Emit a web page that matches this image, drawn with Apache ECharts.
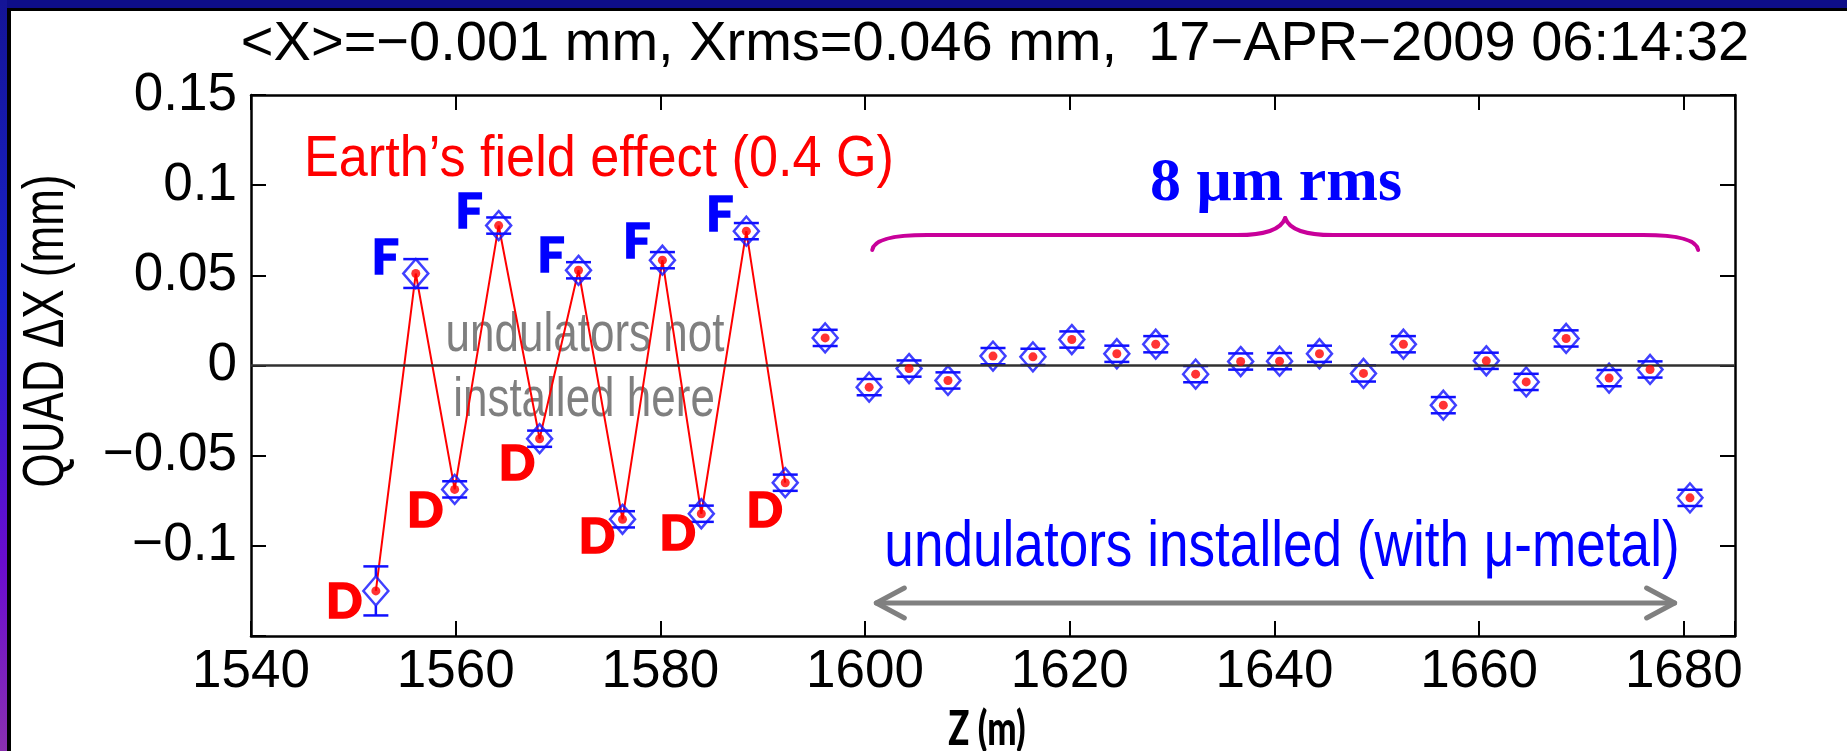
<!DOCTYPE html>
<html>
<head>
<meta charset="utf-8">
<script src="https://cdn.jsdelivr.net/npm/echarts@6/dist/echarts.min.js"></script>
<style>
  html, body { margin: 0; padding: 0; background: #ffffff; }
  #chart { width: 1847px; height: 751px; }
</style>
</head>
<body>
<div id="chart"></div>
<script>
// Quadrupole positions along the undulator line (m)
const zPositions = [
  1552.2, 1556.1, 1559.9, 1564.2, 1568.2, 1572.0, 1576.3, 1580.2, 1584.0, 1588.4, 1592.2,
  1596.1, 1600.4, 1604.3, 1608.1, 1612.5, 1616.4, 1620.2, 1624.6, 1628.4, 1632.3, 1636.7,
  1640.5, 1644.4, 1648.7, 1652.6, 1656.5, 1660.7, 1664.6, 1668.5, 1672.7, 1676.7, 1680.6
];
// Horizontal quad offset (mm)
const quadDx = [
  -0.125, 0.051, -0.0687, 0.0776, -0.0406, 0.0528, -0.0853, 0.0584, -0.0822, 0.0745, -0.065,
  0.0153, -0.012, -0.0017, -0.0083, 0.0052, 0.0048, 0.0144, 0.0065, 0.0118, -0.0048, 0.0022,
  0.0024, 0.0065, -0.0044, 0.0118, -0.022, 0.0026, -0.0091, 0.015, -0.007, -0.0022, -0.0734
];
// Measurement uncertainty (mm)
const quadErr = [
  0.0136, 0.008, 0.0045, 0.0045, 0.0045, 0.0045, 0.0045, 0.0045, 0.0045, 0.0045, 0.0045,
  0.0045, 0.0045, 0.0045, 0.0045, 0.0045, 0.0045, 0.0045, 0.0045, 0.0045, 0.0045, 0.0045,
  0.0045, 0.0045, 0.0045, 0.0045, 0.0045, 0.0045, 0.0045, 0.0045, 0.0045, 0.0045, 0.0045
];
// Focusing / defocusing type of the first quads (no undulators installed there)
const quadType = ['D', 'F', 'D', 'F', 'D', 'F', 'D', 'F', 'D', 'F', 'D'];

const xTickValues = [1540, 1560, 1580, 1600, 1620, 1640, 1660, 1680];
const xTickLabels = ['1540', '1560', '1580', '1600', '1620', '1640', '1660', '1680'];
const yTickValues = [-0.15, -0.1, -0.05, 0, 0.05, 0.1, 0.15];
const yTickLabels = ['', '\u22120.1', '\u22120.05', '0', '0.05', '0.1', '0.15'];

const titleText = '<X>=\u22120.001 mm, Xrms=0.046 mm,  17\u2212APR\u22122009 06:14:32';

// label placement (px) for the F / D tags, relative to each quad
const tagOffsets = [
  [-31, 12], [-30, -15], [-29, 23], [-29, -13], [-22, 26], [-27, -13],
  [-25, 19], [-25, -17], [-23, 21], [-26, -15], [-20, 29]
];

const SANS = '"Liberation Sans", Arial, Helvetica, sans-serif';
const BLUE = '#1010ff';
const RED = '#ff0000';

const points = zPositions.map((z, i) => [z, quadDx[i]]);
const errData = zPositions.map((z, i) => [z, quadDx[i], quadErr[i]]);
const zigzag = quadType.map((t, i) => [zPositions[i], quadDx[i]]);
const tagData = quadType.map((t, i) => {
  const col = t === 'F' ? '#0000ff' : '#ff0000';
  return {
    value: [zPositions[i], quadDx[i]],
    label: {
      formatter: t,
      color: col,
      textBorderColor: col,
      textBorderWidth: 1.5,
      offset: tagOffsets[i]
    }
  };
});

function pickLabel(values, labels, v) {
  for (let i = 0; i < values.length; i++) {
    if (Math.abs(values[i] - v) < 1e-9) return labels[i];
  }
  return '';
}

const chart = echarts.init(document.getElementById('chart'));

const axisLineStyle = { color: '#000', width: 2.5 };
const tickStyle = { inside: true, length: 15, lineStyle: { color: '#000', width: 2 } };

chart.setOption({
  animation: false,
  backgroundColor: '#ffffff',
  title: {
    text: titleText,
    left: 990,
    top: 12,
    textAlign: 'center',
    textStyle: { fontFamily: SANS, fontSize: 56, fontWeight: 'normal', color: '#000' }
  },
  grid: { left: 251, top: 95, width: 1484, height: 541 },
  xAxis: [
    {
      type: 'value', position: 'bottom', min: 1540, max: 1685, interval: 20,
      axisLine: { onZero: false, lineStyle: axisLineStyle },
      axisTick: tickStyle,
      axisLabel: {
        fontFamily: SANS, fontSize: 53, color: '#000', margin: 10,
        formatter: v => pickLabel(xTickValues, xTickLabels, v)
      },
      splitLine: { show: false }
    },
    {
      type: 'value', position: 'top', min: 1540, max: 1685, interval: 20,
      axisLine: { onZero: false, lineStyle: axisLineStyle },
      axisTick: tickStyle,
      axisLabel: { show: false },
      splitLine: { show: false }
    }
  ],
  yAxis: [
    {
      type: 'value', position: 'left', min: -0.15, max: 0.15, interval: 0.05,
      axisLine: { onZero: false, lineStyle: axisLineStyle },
      axisTick: tickStyle,
      axisLabel: {
        fontFamily: SANS, fontSize: 53, color: '#000', margin: 14,
        formatter: v => pickLabel(yTickValues, yTickLabels, v)
      },
      splitLine: { show: false }
    },
    {
      type: 'value', position: 'right', min: -0.15, max: 0.15, interval: 0.05,
      axisLine: { onZero: false, lineStyle: axisLineStyle },
      axisTick: tickStyle,
      axisLabel: { show: false },
      splitLine: { show: false }
    }
  ],
  series: [
    {
      // field-effect zig-zag through the first quads
      type: 'line',
      data: zigzag,
      symbol: 'none',
      lineStyle: { color: RED, width: 2 },
      z: 2,
      markLine: {
        silent: true,
        symbol: 'none',
        label: { show: false },
        lineStyle: { color: '#303030', width: 2.5, type: 'solid' },
        data: [{ yAxis: 0 }]
      }
    },
    {
      // error bars
      type: 'custom',
      data: errData,
      z: 3,
      renderItem: (params, api) => {
        const z = api.value(0), v = api.value(1), e = api.value(2);
        const c = api.coord([z, v]);
        const t = api.coord([z, v + e]);
        const b = api.coord([z, v - e]);
        const hw = 12.5, dh = 14.5;
        const st = { stroke: BLUE, lineWidth: 2.5, fill: null };
        const kids = [
          { type: 'line', shape: { x1: c[0] - hw, y1: t[1], x2: c[0] + hw, y2: t[1] }, style: st },
          { type: 'line', shape: { x1: c[0] - hw, y1: b[1], x2: c[0] + hw, y2: b[1] }, style: st }
        ];
        if (c[1] - t[1] > dh) {
          kids.push({ type: 'line', shape: { x1: c[0], y1: t[1], x2: c[0], y2: c[1] - dh }, style: st });
          kids.push({ type: 'line', shape: { x1: c[0], y1: c[1] + dh, x2: c[0], y2: b[1] }, style: st });
        }
        return { type: 'group', children: kids };
      }
    },
    {
      type: 'scatter',
      data: points,
      symbol: 'diamond',
      symbolSize: [25, 29],
      itemStyle: { color: 'rgba(0,0,0,0)', borderColor: BLUE, borderWidth: 2.5 },
      z: 4
    },
    {
      type: 'scatter',
      data: points,
      symbol: 'circle',
      symbolSize: 9,
      itemStyle: { color: RED },
      z: 5
    },
    {
      // F / D tags
      type: 'scatter',
      data: tagData,
      symbol: 'circle',
      symbolSize: 1,
      itemStyle: { color: '#ffffff', opacity: 0 },
      label: {
        show: true,
        position: [0, 0],
        align: 'center',
        verticalAlign: 'middle',
        opacity: 1,
        fontFamily: 'Lato, "Open Sans", sans-serif',
        fontWeight: 900,
        fontSize: 48
      },
      z: 6
    }
  ]
});

// annotations: brace over the installed section, double arrow, texts
const px = (z, v) => chart.convertToPixel({ gridIndex: 0 }, [z, v]);

const bL = px(1600.7, 0.064), bR = px(1681.4, 0.064);
const bBar = px(1641.05, 0.0723)[1];
const bTip = px(1641.05, 0.0818);
const MAGENTA = '#c8009a';
const braceStyle = { stroke: MAGENTA, lineWidth: 4, fill: null, lineCap: 'round' };
const brace = [
  { type: 'bezierCurve', shape: { x1: bL[0], y1: bL[1], cpx1: bL[0] + 2, cpy1: bBar, x2: bL[0] + 55, y2: bBar } },
  { type: 'line', shape: { x1: bL[0] + 55, y1: bBar, x2: bTip[0] - 48, y2: bBar } },
  { type: 'bezierCurve', shape: { x1: bTip[0] - 48, y1: bBar, cpx1: bTip[0] - 6, cpy1: bBar, x2: bTip[0], y2: bTip[1] } },
  { type: 'bezierCurve', shape: { x1: bTip[0], y1: bTip[1], cpx1: bTip[0] + 6, cpy1: bBar, x2: bTip[0] + 48, y2: bBar } },
  { type: 'line', shape: { x1: bTip[0] + 48, y1: bBar, x2: bR[0] - 55, y2: bBar } },
  { type: 'bezierCurve', shape: { x1: bR[0] - 55, y1: bBar, cpx1: bR[0] - 2, cpy1: bBar, x2: bR[0], y2: bR[1] } }
].map(el => Object.assign(el, { style: braceStyle, silent: true }));

const aL = px(1601.1, -0.1317), aR = px(1679.1, -0.1317);
const GREY = '#808080';
const arrowStyle = { stroke: GREY, lineWidth: 5, lineCap: 'round', lineJoin: 'round', fill: null };

chart.setOption({
  graphic: [
    // slide frame
    { type: 'rect', shape: { x: 0, y: 0, width: 1847, height: 8 }, style: { fill: '#0e0e88' }, silent: true },
    { type: 'rect', shape: { x: 0, y: 0, width: 7, height: 751 }, silent: true,
      style: { fill: { type: 'linear', x: 0, y: 0, x2: 0, y2: 1, colorStops: [
        { offset: 0, color: '#141496' }, { offset: 0.4, color: '#1a22cc' },
        { offset: 0.75, color: '#6a0cd0' }, { offset: 1, color: '#8a30b0' }] } } },
    { type: 'rect', shape: { x: 7, y: 8, width: 1840, height: 3 }, style: { fill: '#000' }, silent: true },
    { type: 'rect', shape: { x: 7, y: 8, width: 4, height: 743 }, style: { fill: '#000' }, silent: true },

    ...brace,

    { type: 'polyline', shape: { points: [aL, aR] }, style: arrowStyle, silent: true },
    { type: 'polyline', shape: { points: [[aL[0] + 28, aL[1] - 15], aL, [aL[0] + 28, aL[1] + 15]] }, style: arrowStyle, silent: true },
    { type: 'polyline', shape: { points: [[aR[0] - 28, aR[1] - 15], aR, [aR[0] - 28, aR[1] + 15]] }, style: arrowStyle, silent: true },

    // axis titles
    { type: 'text', x: 47, y: 331, rotation: Math.PI / 2, scaleY: 1.32, silent: true,
      style: { text: 'QUAD \u0394X (mm)', fill: '#000', font: '44px ' + SANS, textAlign: 'center', textVerticalAlign: 'middle' } },
    { type: 'text', x: 987, y: 730, scaleX: 0.74, silent: true,
      style: { text: 'Z (m)', fill: '#000', font: '900 47px Lato, "Open Sans", sans-serif', textAlign: 'center', textVerticalAlign: 'middle' } },

    // annotations
    { type: 'text', x: 304, y: 160, scaleX: 0.9, silent: true,
      style: { text: 'Earth\u2019s field effect (0.4 G)', fill: RED, font: '58px ' + SANS, textAlign: 'left', textVerticalAlign: 'middle' } },
    { type: 'text', x: 1276, y: 184, silent: true,
      style: { text: '8 \u03bcm rms', fill: '#0000ff', font: 'bold 62px "Liberation Serif", "Times New Roman", serif', textAlign: 'center', textVerticalAlign: 'middle' } },
    { type: 'text', x: 585, y: 336, scaleX: 0.8, silent: true,
      style: { text: 'undulators not', fill: '#7f7f7f', font: '55px ' + SANS, textAlign: 'center', textVerticalAlign: 'middle' } },
    { type: 'text', x: 584, y: 401, scaleX: 0.8, silent: true,
      style: { text: 'installed here', fill: '#7f7f7f', font: '55px ' + SANS, textAlign: 'center', textVerticalAlign: 'middle' } },
    { type: 'text', x: 1282, y: 548, scaleX: 0.83, silent: true,
      style: { text: 'undulators installed (with \u03bc-metal)', fill: '#0000ff', font: '64px ' + SANS, textAlign: 'center', textVerticalAlign: 'middle' } }
  ]
});
</script>
</body>
</html>
